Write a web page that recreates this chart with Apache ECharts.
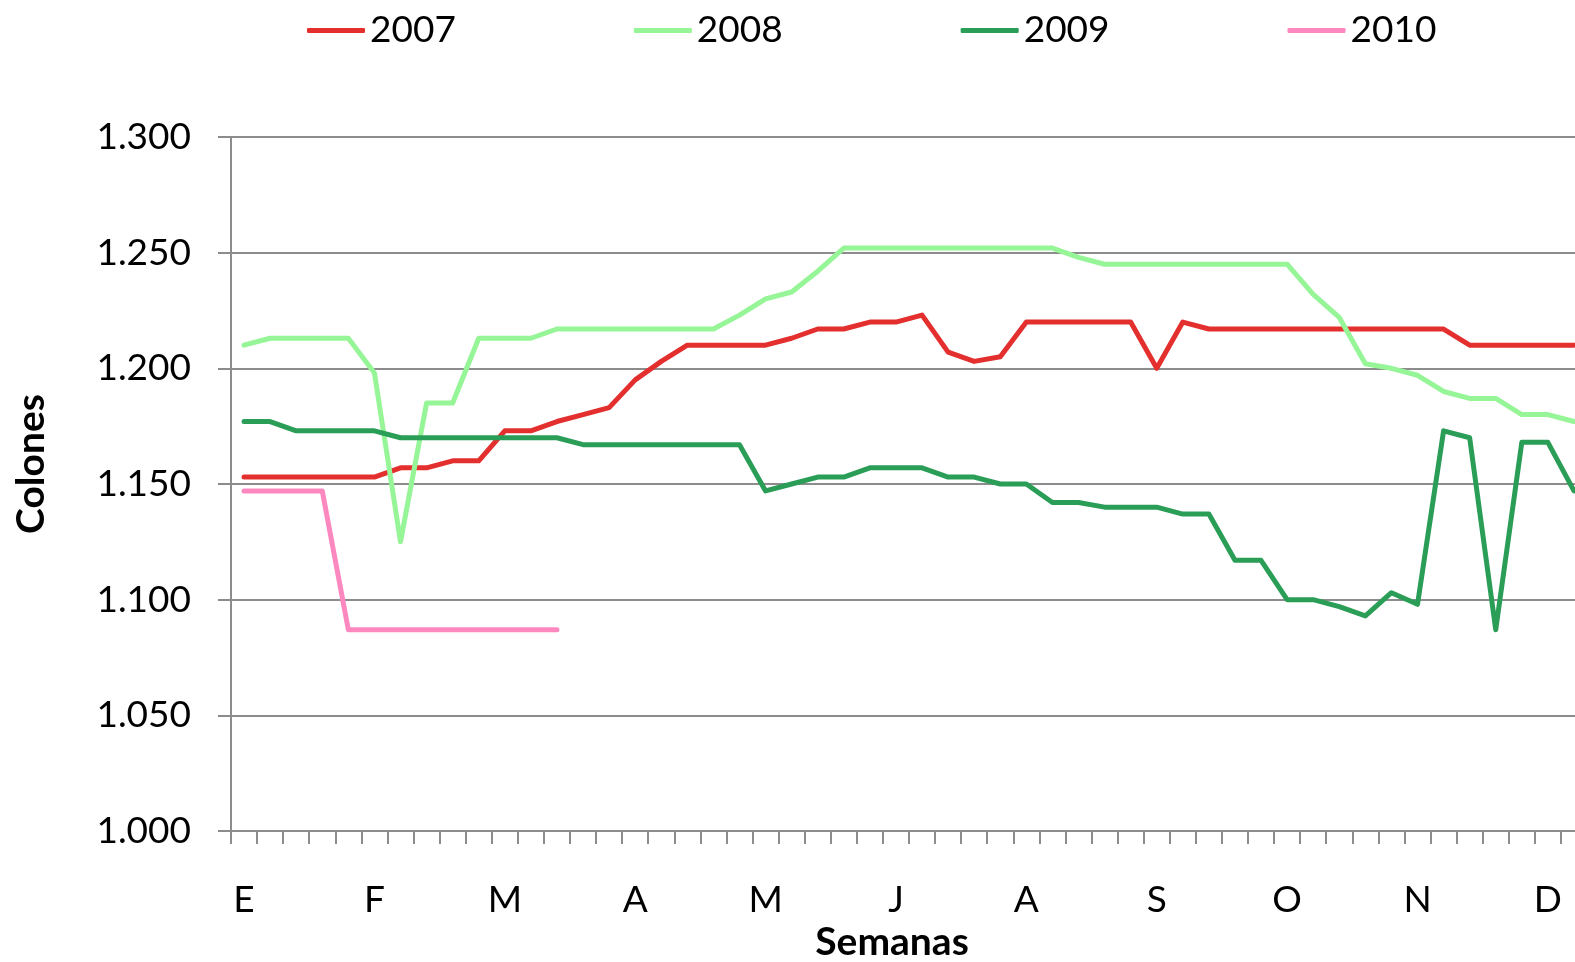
<!DOCTYPE html>
<html lang="es">
<head>
<meta charset="UTF-8">
<title>Colones por semana</title>
<script src="https://cdn.jsdelivr.net/npm/echarts@6.0.0/dist/echarts.min.js"></script>
<style>html,body{margin:0;padding:0;background:#fff;}</style>
</head>
<body>
<div id="dom" style="width:1575px;height:962px"></div>
<script>
// month letters shown every 5 weeks
var months = ['E', 'F', 'M', 'A', 'M', 'J', 'A', 'S', 'O', 'N', 'D'];
var weeks = [];
for (var w = 1; w <= 52; w++) weeks.push('S' + w);

var years = ['2007', '2008', '2009', '2010'];
var colors = ['#e3302f', '#96f596', '#2a9d57', '#fd88bf'];

var y2007 = [1.153, 1.153, 1.153, 1.153, 1.153, 1.153, 1.157, 1.157, 1.160, 1.160,
    1.173, 1.173, 1.177, 1.180, 1.183, 1.195, 1.203, 1.210, 1.210, 1.210,
    1.210, 1.213, 1.217, 1.217, 1.220, 1.220, 1.223, 1.207, 1.203, 1.205,
    1.220, 1.220, 1.220, 1.220, 1.220, 1.200, 1.220, 1.217, 1.217, 1.217,
    1.217, 1.217, 1.217, 1.217, 1.217, 1.217, 1.217, 1.210, 1.210, 1.210,
    1.210, 1.210];
var y2008 = [1.210, 1.213, 1.213, 1.213, 1.213, 1.198, 1.125, 1.185, 1.185, 1.213,
    1.213, 1.213, 1.217, 1.217, 1.217, 1.217, 1.217, 1.217, 1.217, 1.223,
    1.230, 1.233, 1.242, 1.252, 1.252, 1.252, 1.252, 1.252, 1.252, 1.252,
    1.252, 1.252, 1.248, 1.245, 1.245, 1.245, 1.245, 1.245, 1.245, 1.245,
    1.245, 1.232, 1.222, 1.202, 1.200, 1.197, 1.190, 1.187, 1.187, 1.180,
    1.180, 1.177];
var y2009 = [1.177, 1.177, 1.173, 1.173, 1.173, 1.173, 1.170, 1.170, 1.170, 1.170,
    1.170, 1.170, 1.170, 1.167, 1.167, 1.167, 1.167, 1.167, 1.167, 1.167,
    1.147, 1.150, 1.153, 1.153, 1.157, 1.157, 1.157, 1.153, 1.153, 1.150,
    1.150, 1.142, 1.142, 1.140, 1.140, 1.140, 1.137, 1.137, 1.117, 1.117,
    1.100, 1.100, 1.097, 1.093, 1.103, 1.098, 1.173, 1.170, 1.087, 1.168,
    1.168, 1.147];
var y2010 = [1.147, 1.147, 1.147, 1.147, 1.087, 1.087, 1.087, 1.087, 1.087, 1.087,
    1.087, 1.087, 1.087];

var font = 'Lato';
var grey = '#8c8c8c';

function lineSeries(i, data) {
    return {
        name: years[i],
        type: 'line',
        data: data,
        symbol: 'none',
        color: colors[i],
        lineStyle: {width: 5, color: colors[i], cap: 'round', join: 'round'},
        animation: false
    };
}

var dom = document.getElementById('dom');
var myCharts = echarts.init(dom);
var option = {
    backgroundColor: '#fff',
    animation: false,
    legend: {
        left: 302,
        top: 7,
        icon: 'roundRect',
        itemWidth: 58,
        itemHeight: 5,
        itemGap: 178,
        textStyle: {fontFamily: font, fontSize: 37, color: '#000'},
        data: years
    },
    // plot runs past the right edge of the page, as in the original
    grid: {left: 231, top: 137, width: 1356, height: 694, outerBoundsMode: 'none', containLabel: false},
    xAxis: {
        type: 'category',
        data: weeks,
        boundaryGap: true,
        axisLine: {show: true, lineStyle: {color: grey, width: 2}},
        axisTick: {show: true, interval: 0, length: 13, lineStyle: {color: grey, width: 2}},
        axisLabel: {
            interval: 4,
            margin: 51,
            fontFamily: font,
            fontSize: 37,
            color: '#000',
            formatter: function (v, idx) { return months[idx / 5]; }
        },
        splitLine: {show: false}
    },
    yAxis: {
        type: 'value',
        min: 1.0,
        max: 1.3,
        interval: 0.05,
        axisLine: {show: true, lineStyle: {color: grey, width: 2}},
        axisTick: {show: true, length: 13, lineStyle: {color: grey, width: 2}},
        axisLabel: {
            margin: 40,
            fontFamily: font,
            fontSize: 37,
            color: '#000',
            formatter: function (v) { return v.toFixed(3); }
        },
        splitLine: {lineStyle: {color: grey, width: 2}}
    },
    graphic: [
        {type: 'text', x: 892, y: 942, style: {text: 'Semanas', font: 'bold 39px Lato', fill: '#000', align: 'center', verticalAlign: 'middle'}},
        {type: 'text', x: 31, y: 464, rotation: Math.PI / 2, style: {text: 'Colones', font: 'bold 39px Lato', fill: '#000', align: 'center', verticalAlign: 'middle'}}
    ],
    series: [
        lineSeries(0, y2007),
        lineSeries(1, y2008),
        lineSeries(2, y2009),
        lineSeries(3, y2010)
    ]
};
myCharts.setOption(option);
</script>
</body>
</html>
